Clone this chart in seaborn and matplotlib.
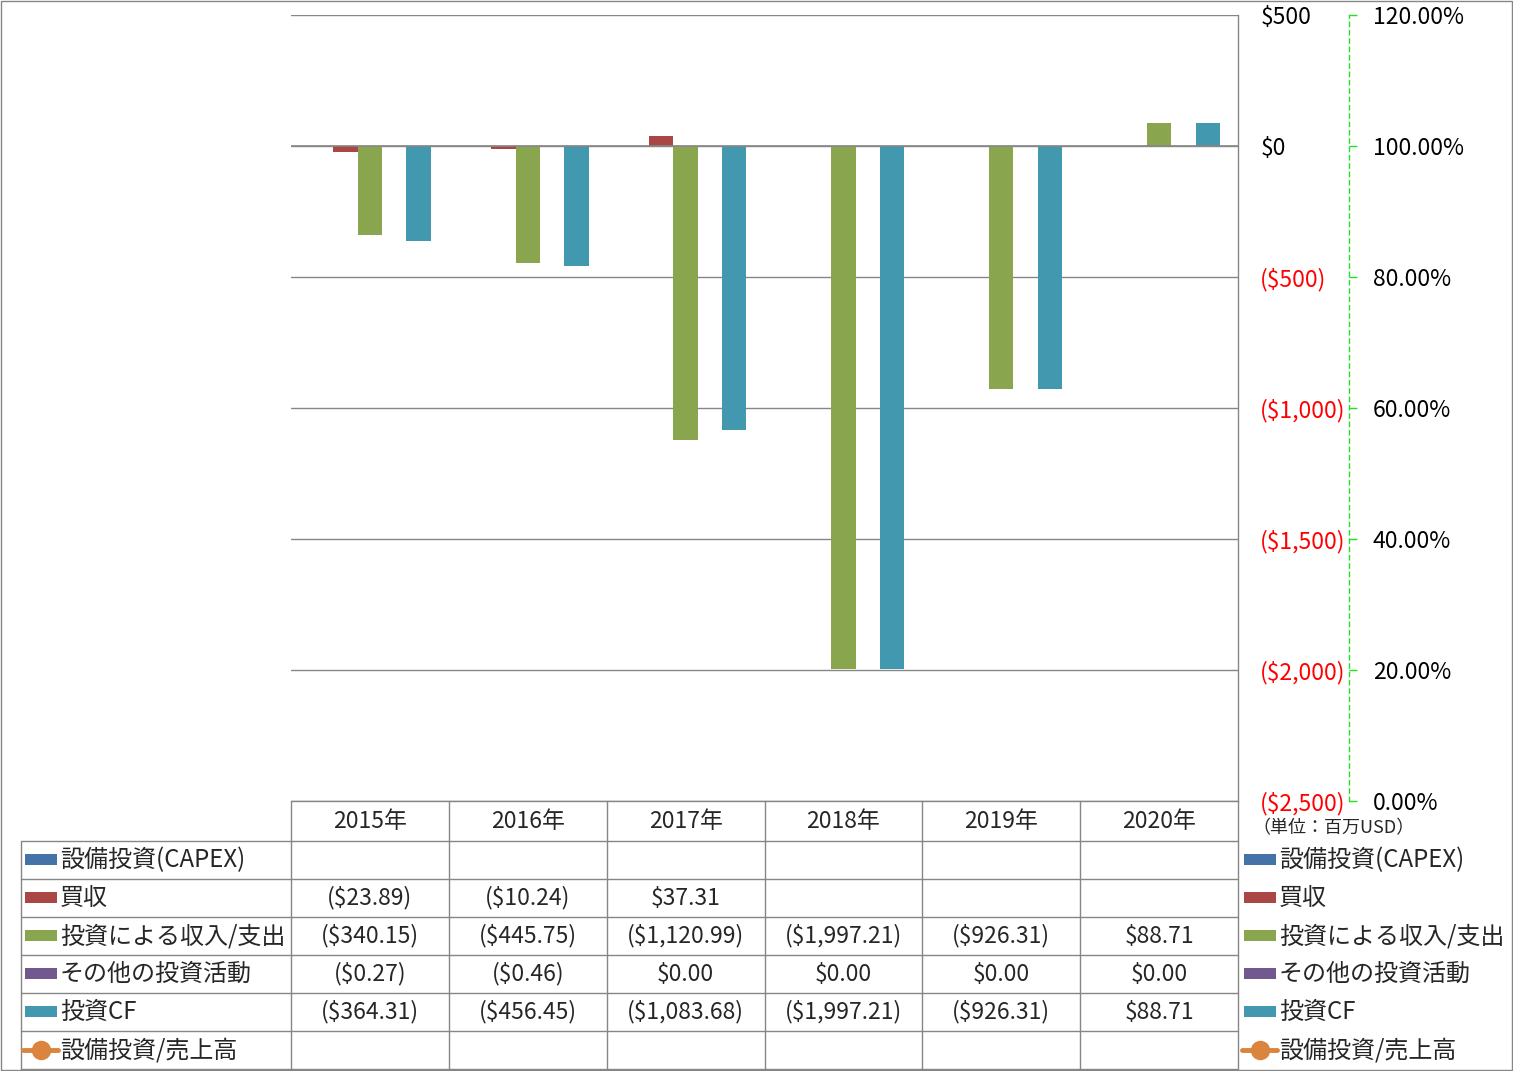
import numpy as np
import pandas as pd
import matplotlib
matplotlib.use("Agg")
import matplotlib.pyplot as plt
from matplotlib.patches import Rectangle
from matplotlib.lines import Line2D
import seaborn as sns

nan = np.nan
years = ["2015年", "2016年", "2017年", "2018年", "2019年", "2020年"]
capex = [nan, nan, nan, nan, nan, nan]
acquisition = [-23.89, -10.24, 37.31, nan, nan, nan]
invest_inout = [-340.15, -445.75, -1120.99, -1997.21, -926.31, 88.71]
other_invest = [-0.27, -0.46, 0.00, 0.00, 0.00, 0.00]
invest_cf = [-364.31, -456.45, -1083.68, -1997.21, -926.31, 88.71]
capex_ratio = [nan, nan, nan, nan, nan, nan]

bar_names = ["設備投資(CAPEX)", "買収", "投資による収入/支出", "その他の投資活動", "投資CF"]
line_name = "設備投資/売上高"
bar_values = [capex, acquisition, invest_inout, other_invest, invest_cf]
colors = {"設備投資(CAPEX)": "#4572A7", "買収": "#AA4643", "投資による収入/支出": "#89A54E",
          "その他の投資活動": "#71588F", "投資CF": "#4198AF", line_name: "#DB843D"}

y_ticks = [-2500, -2000, -1500, -1000, -500, 0, 500]
y2_ticks = [0.0, 0.2, 0.4, 0.6, 0.8, 1.0, 1.2]

rows = []
for name, vals in zip(bar_names, bar_values):
    for yr, v in zip(years, vals):
        rows.append({"year": yr, "series": name, "value": v})
df = pd.DataFrame(rows)

sns.set_theme(style="white")
plt.rcParams["font.family"] = ["Noto Sans CJK JP", "DejaVu Sans"]

NUM_FS = 16.5
LBL_FS = 17.3

W, H = 1513, 1071
fig = plt.figure(figsize=(W / 100, H / 100), dpi=100)
fig.patch.set_facecolor("white")

def frac(x0, y0, x1, y1):
    return [x0 / W, 1 - y1 / H, (x1 - x0) / W, (y1 - y0) / H]

PL, PT, PR, PB = 291, 15, 1238, 801
GRID = "#868686"
GREEN = "#22E022"

ax = fig.add_axes(frac(PL, PT, PR, PB))
ax.set_facecolor("none")
sns.barplot(data=df, x="year", y="value", hue="series", order=years, hue_order=bar_names,
            palette=colors, width=0.77, saturation=1, legend=False, ax=ax,
            linewidth=0, errorbar=None)
ax.set_xlim(-0.5, len(years) - 0.5)
ax.set_ylim(min(y_ticks), max(y_ticks))
ax.set_yticks(y_ticks)
def money(v):
    return f"(${-v:,.0f})" if v < 0 else f"${v:,.0f}"
ax.set_yticklabels([money(v) for v in y_ticks])
ax.yaxis.tick_right()
ax.tick_params(axis="y", length=0, pad=16, labelsize=NUM_FS)
for t, v in zip(ax.yaxis.get_major_ticks(), y_ticks):
    t.label2.set_color("#FF0000" if v < 0 else "black")
    t.label1.set_color("#FF0000" if v < 0 else "black")
ax.set_xticks([])
ax.set_xlabel("")
ax.set_ylabel("")
ax.yaxis.grid(True, color=GRID, linewidth=1)
ax.set_axisbelow(True)
ax.axhline(0, color=GRID, linewidth=1.2, zorder=3)
for s in ["top", "left", "bottom"]:
    ax.spines[s].set_visible(False)
ax.spines["right"].set_color(GRID)
ax.spines["right"].set_linewidth(1)

# secondary axis
ax2 = fig.add_axes(frac(1300, PT, 1349, PB))
ax2.set_facecolor("none")
ax2.plot(np.arange(len(years)), capex_ratio, color=colors[line_name], marker="o")
ax2.set_ylim(0, 1.2)
ax2.set_yticks(y2_ticks)
ax2.set_yticklabels([f"{v*100:.2f}%" for v in y2_ticks])
ax2.yaxis.tick_right()
ax2.tick_params(axis="y", length=6, width=1, color=GREEN, direction="out", pad=11,
                labelsize=NUM_FS, labelcolor="black")
for t in ax2.yaxis.get_ticklines():
    t.set_linestyle((0, (2, 2)))
ax2.set_xticks([])
for s in ["top", "left", "bottom"]:
    ax2.spines[s].set_visible(False)
ax2.spines["right"].set_color(GREEN)
ax2.spines["right"].set_linestyle((0, (3, 3)))
ax2.spines["right"].set_linewidth(1)

# overlay for data table and legend
ov = fig.add_axes([0, 0, 1, 1])
ov.set_xlim(0, W)
ov.set_ylim(H, 0)
ov.axis("off")

col_edges = np.linspace(PL, PR, len(years) + 1)
row_edges = [801, 841, 879, 917, 955, 993, 1031, 1069]
LBL_L = 21
lc = dict(color=GRID, linewidth=1)
ov.plot([PL, PR], [row_edges[0], row_edges[0]], **lc)
for ye in row_edges[1:]:
    ov.plot([LBL_L, PR], [ye, ye], **lc)
for xe in col_edges:
    ov.plot([xe, xe], [row_edges[0], row_edges[-1]], **lc)
ov.plot([LBL_L, LBL_L], [row_edges[1], row_edges[-1]], **lc)

def cell(v):
    if v is None or (isinstance(v, float) and np.isnan(v)):
        return ""
    return f"(${-v:,.2f})" if v < 0 else f"${v:,.2f}"

centers_x = (col_edges[:-1] + col_edges[1:]) / 2
hdr_y = (row_edges[0] + row_edges[1]) / 2
for cx, yr in zip(centers_x, years):
    ov.text(cx, hdr_y, yr, ha="center", va="center", fontsize=NUM_FS)

all_names = bar_names + [line_name]
all_vals = bar_values + [capex_ratio]
row_cy = [(row_edges[i] + row_edges[i + 1]) / 2 for i in range(1, len(row_edges) - 1)]

def key(x0, cy, name):
    if name == line_name:
        ov.add_line(Line2D([x0 - 2, x0 + 33], [cy, cy], color=colors[name], linewidth=3.5,
                           solid_capstyle="round"))
        ov.plot([x0 + 15.5], [cy], marker="o", markersize=14, color=colors[name],
                markeredgewidth=0)
    else:
        ov.add_patch(Rectangle((x0, cy - 6), 32, 11, facecolor=colors[name], edgecolor="none"))

for cy, name, vals in zip(row_cy, all_names, all_vals):
    key(25, cy, name)
    ov.text(60, cy, name, ha="left", va="center", fontsize=LBL_FS)
    if name != line_name:
        for cx, v in zip(centers_x, vals):
            ov.text(cx, cy, cell(v), ha="center", va="center", fontsize=NUM_FS)
    # right legend
    key(1244, cy, name)
    ov.text(1279, cy, name, ha="left", va="center", fontsize=LBL_FS)

ov.text(1252, 828, "（単位：百万USD）", ha="left", va="center", fontsize=13)

ov.add_patch(Rectangle((0.5, 0.5), W - 2, H - 2, facecolor="none", edgecolor=GRID, linewidth=1))

fig.savefig("out.png", dpi=100)
